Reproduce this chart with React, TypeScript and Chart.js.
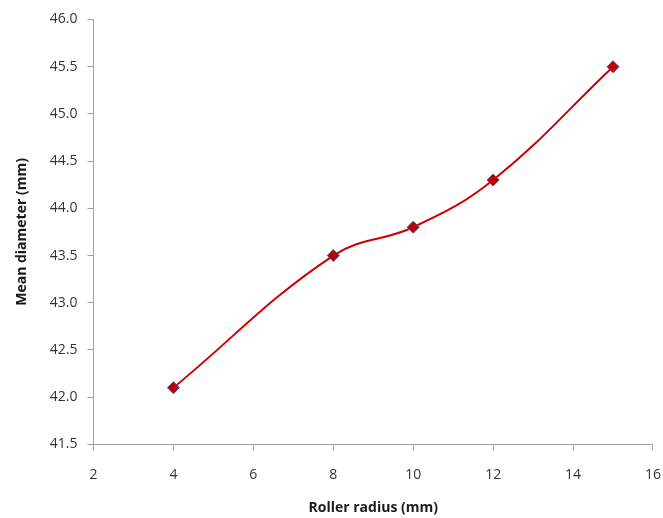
import React, { useEffect, useRef } from "react";
import { Chart, registerables } from "chart.js";
Chart.register(...registerables);

const radius = [4, 8, 10, 12, 15];
const meanDiameter = [42.1, 43.5, 43.8, 44.3, 45.5];
const xTitle = "Roller radius (mm)";
const yTitle = "Mean diameter (mm)";

export default function App() {
  const ref = useRef<HTMLCanvasElement>(null);
  useEffect(() => {
    const font = "'Open Sans', 'DejaVu Sans', sans-serif";
    const chart = new Chart(ref.current!, {
      type: "scatter",
      data: {
        datasets: [
          {
            data: radius.map((x, i) => ({ x, y: meanDiameter[i] })),
            showLine: true,
            tension: 0.4,
            borderColor: "#d00000",
            borderWidth: 2,
            pointStyle: "rectRot",
            pointRadius: 6,
            pointBackgroundColor: "#c00000",
            pointBorderColor: "#50508a",
            pointBorderWidth: 1,
          },
        ],
      },
      options: {
        animation: false,
        responsive: false,
        maintainAspectRatio: false,
        layout: { padding: { left: 14, right: 3, top: 19.5, bottom: 2 } },
        plugins: { legend: { display: false }, tooltip: { enabled: false } },
        scales: {
          x: {
            type: "linear",
            min: 2,
            max: 16,
            ticks: { stepSize: 2, color: "#333", font: { family: font, size: 14 }, padding: 16 },
            grid: { drawOnChartArea: false, drawTicks: true, tickLength: 6, color: "#a0a0a0" },
            border: { color: "#a0a0a0" },
            title: { display: true, text: xTitle, color: "#1a1a1a", font: { family: font, size: 14, weight: "bold" }, padding: { top: 0, bottom: 0 } },
          },
          y: {
            type: "linear",
            min: 41.5,
            max: 46,
            ticks: { stepSize: 0.5, color: "#333", font: { family: font, size: 14 }, padding: 10, callback: (v: any) => Number(v).toFixed(1) },
            grid: { drawOnChartArea: false, drawTicks: true, tickLength: 6, color: "#a0a0a0" },
            border: { color: "#a0a0a0" },
            title: { display: true, text: yTitle, color: "#1a1a1a", font: { family: font, size: 14, weight: "bold" }, padding: { top: 0, bottom: 9 } },
          },
        },
      },
    });
    return () => chart.destroy();
  }, []);
  return (
    <div style={{ position: "fixed", left: 0, top: 0, width: 663, height: 518, overflow: "hidden", background: "#fff" }}>
      <canvas ref={ref} width={677} height={518} />
    </div>
  );
}
